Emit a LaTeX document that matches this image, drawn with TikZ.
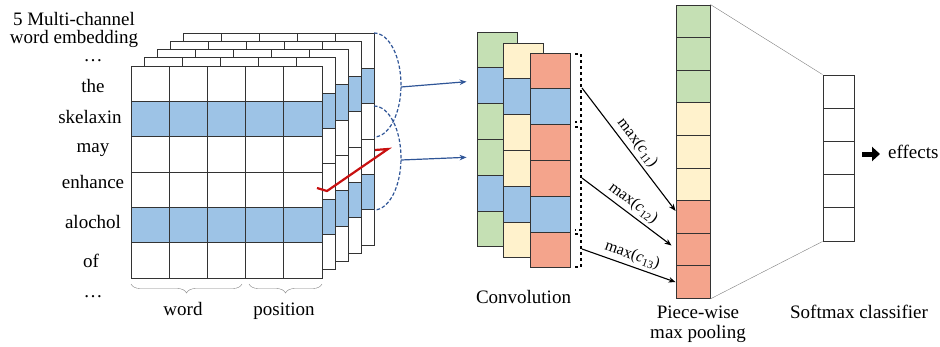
\documentclass[tikz,border=0pt]{standalone}
\usepackage{fontspec}
\setmainfont{Liberation Serif}
\usetikzlibrary{positioning, arrows.meta, calc, decorations.pathreplacing}
\definecolor{wordblue}{RGB}{157,195,230}
\definecolor{convgreen}{RGB}{197,224,180}
\definecolor{convyellow}{RGB}{255,242,204}
\definecolor{convred}{RGB}{244,164,140}
\definecolor{arcblue}{RGB}{47,85,151}
\definecolor{linered}{RGB}{200,16,16}
\tikzset{
  pcnn/.style={
	x=1pt, y=-1pt, % pixel units, y runs downwards
	>={Stealth[length=7pt,width=5.5pt]}, % arrow heads
	font=\fontsize{19}{20}\selectfont, % text size of the labels
	txt/.style={inner sep=0pt, text height=13pt, text depth=4pt}, % same centre line for every word
  },
  cell/.style={draw=black!80, line width=0.9pt, inner sep=0pt},
  convcell/.style={cell, minimum width=40pt, minimum height=35.8pt},
  poolcell/.style={cell, minimum width=34pt, minimum height=32.6pt},
  softcell/.style={cell, minimum width=31pt, minimum height=33.2pt},
  maxlabel/.style={font=\fontsize{16}{16}\selectfont, inner sep=0pt, sloped, above=3pt, midway},
  window/.style={arcblue, dash pattern=on 3.5pt off 2pt, line width=1.2pt},
}
\newcommand{\maxc}[1]{max(\textit{c}\textsubscript{#1})}
\begin{document}
\begin{tikzpicture}[pcnn]
	\useasboundingbox (0,0) rectangle (940,346);

	% word embedding, 5 channels, back to front
	\foreach \k in {4,3,2,1,0}{
	  \begin{scope}[shift={(13*\k,-8.25*\k)}]
	    \foreach \r/\col in {1/white,2/wordblue,3/white,4/white,5/wordblue,6/white}
	      \foreach \c in {1,...,5}
	        \draw[cell, fill=\col] ({131+38.2*(\c-1)},{66+35.33*(\r-1)}) rectangle +(38.2,35.33);
	  \end{scope}
	}

	\node[txt] (head1) at (74,20.5) {5 Multi-channel};
	\node[txt] (head2) at (74,38.5) {word embedding};
	\node[txt] (dots1) at (93,56.5) {\ldots};
	\node[txt] (w1) at (93,87.5) {the};
	\node[txt] (w2) at (90,118.5) {skelaxin};
	\node[txt] (w3) at (93,147.5) {may};
	\node[txt] (w4) at (93,183.5) {enhance};
	\node[txt] (w5) at (93,223.5) {alochol};
	\node[txt] (w6) at (91,262.5) {of};
	\node[txt] (dots2) at (93,292.5) {\ldots};

	\draw[gray, decorate, decoration={brace, mirror, amplitude=9pt}] (131,284) -- (242,284);
	\draw[gray, decorate, decoration={brace, mirror, amplitude=9pt}] (249,284) -- (322,284);
	\node[txt] (lword) at (183,310.5) {word};
	\node[txt] (lpos) at (284,310.5) {position};

	% filter windows
	\draw[window] (374,33) arc[start angle=90, end angle=-90, x radius=27pt, y radius=52pt];
	\draw[window] (374,106) arc[start angle=90, end angle=-90, x radius=27pt, y radius=52pt];
	\draw[linered, line width=2.2pt] (317,188) -- (327,191) -- (388,149) -- (375,150);

	% convolution
	\foreach \i/\col in {1/convgreen,2/wordblue,3/convgreen,4/convgreen,5/wordblue,6/convgreen}
	  \node[convcell, fill=\col] (ca\i) at (497,{32+35.8*(\i-0.5)}) {};
	\foreach \i/\col in {1/convyellow,2/wordblue,3/convyellow,4/convyellow,5/wordblue,6/convyellow}
	  \node[convcell, fill=\col] (cb\i) at (523.5,{43+35.8*(\i-0.5)}) {};
	\foreach \i/\col in {1/convred,2/wordblue,3/convred,4/convred,5/wordblue,6/convred}
	  \node[convcell, fill=\col] (cc\i) at (550,{53+35.8*(\i-0.5)}) {};
	\node[txt, below=32pt of cb6.south] (lconv) {Convolution};

	\coordinate (arcA) at (401,87);
	\coordinate (arcB) at (401,160);
	\draw[->, arcblue, line width=1.2pt] (arcA) -- ([xshift=-10pt,yshift=4pt]ca2.west);
	\draw[->, arcblue, line width=1.2pt] (arcB) -- ([xshift=-10pt]ca4.west);

	% segments of the feature map
	\draw[dashed, line width=1.1pt] (575,54) -- (581,54) -- (581,122) -- (575,122);
	\draw[dashed, line width=1.1pt] (575,127) -- (581,127) -- (581,230) -- (575,230);
	\draw[dashed, line width=1.1pt] (575,234) -- (581,234) -- (581,267) -- (575,267);
	\coordinate (seg1) at (582,88);
	\coordinate (seg2) at (582,178);
	\coordinate (seg3) at (582,249);

	% piece-wise max pooling
	\foreach \i/\col in {1/convgreen,2/convgreen,3/convgreen,4/convyellow,5/convyellow,6/convyellow,7/convred,8/convred,9/convred}
	  \node[poolcell, fill=\col] (p\i) at (693,{5+32.6*(\i-0.5)}) {};
	\node[txt] (lpool1) at (698,313.5) {Piece-wise};
	\node[txt] (lpool2) at (698,333.5) {max pooling};

	\draw[->, line width=1.1pt] (seg1) -- ([yshift=6pt]p7.west) node[maxlabel]{\maxc{11}};
	\draw[->, line width=1.1pt] (seg2) -- ([xshift=-4pt,yshift=4pt]p8.west) node[maxlabel]{\maxc{12}};
	\draw[->, line width=1.1pt] (seg3) -- (p9.west) node[maxlabel]{\maxc{13}};

	% softmax
	\foreach \i in {1,...,5}
	  \node[softcell] (s\i) at (838.5,{75+33.2*(\i-0.5)}) {};
	\draw[gray] (p1.north east) -- (s1.north west);
	\draw[gray] (p9.south east) -- (s5.south west);
	\node[txt] (lsoft) at (859,313.5) {Softmax classifier};

	\node[txt, anchor=west] (eff) at (888,154) {effects};
	\draw[line width=5pt, -{Triangle[length=8pt,width=14pt]}] ([xshift=-26pt]eff.west) -- ([xshift=-8pt]eff.west);
\end{tikzpicture}
\end{document}
